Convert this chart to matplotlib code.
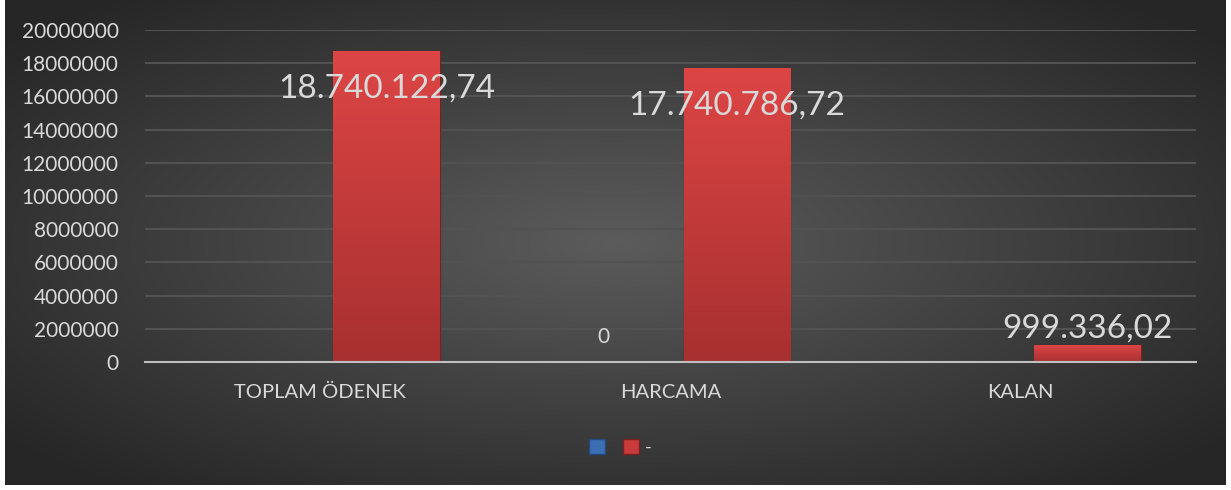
import numpy as np
import matplotlib
matplotlib.use("Agg")
import matplotlib.pyplot as plt
from matplotlib.patches import Patch

categories = ["TOPLAM ÖDENEK", "HARCAMA", "KALAN"]
blue_vals = [np.nan, 0, np.nan]
red_vals = [18740122.74, 17740786.72, 999336.02]
red_labels = ["18.740.122,74", "17.740.786,72", "999.336,02"]
blue_labels = ["", "0", ""]
yticks = list(range(0, 20000001, 2000000))

plt.rcParams['font.family'] = ['Lato', 'DejaVu Sans']
txt = '#d9d9d9'

fig = plt.figure(figsize=(12.31, 4.9), dpi=100)
fig.patch.set_facecolor('white')

# dark radial background
bg = fig.add_axes([5/1231, 5/490, 1221/1231, 485/490])
gx, gy = np.meshgrid(np.linspace(-1, 1, 400), np.linspace(-1, 1, 200))
r = np.clip(np.sqrt(gx**2 + gy**2) / 1.3, 0, 1)
lo, hi = np.array([0.15, 0.15, 0.15]), np.array([0.36, 0.36, 0.36])
img = hi[None, None, :] * (1 - r[..., None]) + lo[None, None, :] * r[..., None]
bg.imshow(img, aspect='auto', extent=[0, 1, 0, 1])
bg.set_axis_off()

ax = fig.add_axes([145/1231, 128/490, 1051/1231, 332/490])
ax.patch.set_alpha(0)
x = np.arange(len(categories))
off, w = 0.19, 0.305

ax.bar(x - off, blue_vals, w, color='#3c6eb4')
bars = ax.bar(x + off, red_vals, w, color='#c93b3b', edgecolor='#7a2020', linewidth=0.8, zorder=3)

# vertical gradient on red bars
grad = np.linspace(0, 1, 100)[:, None]
cmap = matplotlib.colors.LinearSegmentedColormap.from_list('rb', ['#a83030', '#dd4545'])
for b in bars:
    x0, y0 = b.get_x(), b.get_y()
    im = ax.imshow(grad, cmap=cmap, aspect='auto', origin='lower',
                   extent=[x0, x0 + b.get_width(), y0, y0 + b.get_height()], zorder=3.5)
    im.set_clip_path(b)

ax.set_xlim(-0.5, 2.5)
ax.set_ylim(0, 20000000)
ax.set_yticks(yticks)
ax.set_yticklabels([str(v) for v in yticks])
ax.set_xticks(x)
ax.set_xticklabels(categories)
ax.tick_params(axis='y', length=0, pad=19, labelsize=15, labelcolor=txt)
ax.tick_params(axis='x', length=0, pad=16, labelsize=14.5, labelcolor=txt)
for s in ['top', 'right', 'left']:
    ax.spines[s].set_visible(False)
ax.spines['bottom'].set_color('#bfbfbf')
ax.spines['bottom'].set_linewidth(1.5)
ax.spines['bottom'].set_zorder(5)
ax.yaxis.grid(True, color='#525252', linewidth=1.5)
ax.set_axisbelow(True)

# labels
for i, v in enumerate(red_vals):
    dy = -38 if v > 5000000 else 17
    ax.annotate(red_labels[i], (x[i] + off, v), xytext=(0, dy), textcoords='offset pixels',
                ha='center', va='center', fontsize=24, color=txt, zorder=6)
for i, v in enumerate(blue_vals):
    if blue_labels[i]:
        ax.annotate(blue_labels[i], (x[i] - off, v), xytext=(0, 25), textcoords='offset pixels',
                    ha='center', va='center', fontsize=15, color=txt, zorder=6)

handles = [Patch(facecolor='#3c6eb4', edgecolor='#24497e'),
           Patch(facecolor='#c93b3b', edgecolor='#7a2020')]
fig.legend(handles, ['', '-'], loc='center', bbox_to_anchor=(620/1231, 43/490), ncol=2,
           frameon=False, handlelength=0.9, handleheight=0.9, handletextpad=0.3,
           columnspacing=0.7, fontsize=13, labelcolor=txt)

fig.savefig('out.png', dpi=100)
